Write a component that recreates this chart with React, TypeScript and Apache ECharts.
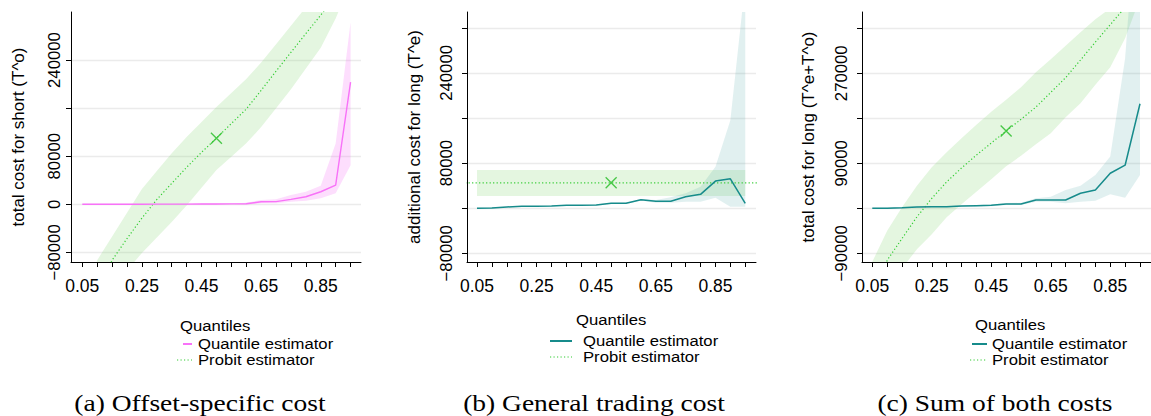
import React, { useEffect, useRef } from 'react';
import * as echarts from 'echarts';

// Quantile grid
const Q = [0.05, 0.10, 0.15, 0.20, 0.25, 0.30, 0.35, 0.40, 0.45, 0.50, 0.55, 0.60, 0.65, 0.70, 0.75, 0.80, 0.85, 0.90, 0.95];
const X_TICKS = [0.05, 0.10, 0.15, 0.20, 0.25, 0.30, 0.35, 0.40, 0.45, 0.50, 0.55, 0.60, 0.65, 0.70, 0.75, 0.80, 0.85, 0.90, 0.95];
const X_LABELS = [0.05, 0.25, 0.45, 0.65, 0.85];

// (a) Offset-specific cost
const A_QUANT = [0, 60, 110, 170, 210, 260, 320, 380, 460, 550, 650, 900, 4300, 4400, 8300, 12600, 20900, 32000, 203300];
const A_QUANT_LO = [-300, -250, -200, -150, -150, -100, -100, -50, 0, 50, 100, -500, 1600, 1600, 4300, 6000, 10000, 18200, 65200];
const A_QUANT_HI = [300, 350, 400, 450, 550, 600, 700, 800, 900, 1100, 1300, 2800, 7200, 8300, 15400, 20900, 30800, 101100, 302800];
const A_PROBIT = [-215000, -145000, -93000, -57000, -23000, 8000, 34800, 61500, 86500, 110000, 134400, 158400, 189500, 221600, 253000, 284000, 315000, 346000, 380000];
const A_PROBIT_HI = [-165000, -93000, -53600, -14200, 25300, 55500, 84800, 112000, 136900, 161800, 185200, 208600, 235800, 266500, 297200, 328000, 360000, 395000, 435000];
const A_PROBIT_LO = [-290000, -215000, -155000, -110000, -81000, -55300, -29400, -2000, 27500, 56900, 79100, 101400, 128500, 160000, 191600, 226000, 260700, 309000, 370000];
const A_MARK = [0.5, 110000];
const A_Y_TICKS = [-80000, 0, 80000, 160000, 240000];
const A_Y_LABELS = [-80000, 0, 80000, 240000];

// (b) General trading cost
const B_QUANT = [0, 500, 2100, 3400, 3400, 3900, 5100, 5100, 5700, 8700, 8700, 15000, 12200, 12200, 20400, 24600, 48100, 52200, 8700];
const B_QUANT_HI = [600, 1100, 2700, 4000, 4000, 4500, 5700, 5800, 6400, 9500, 9800, 16500, 14500, 19300, 26400, 38000, 73400, 156100, 400000];
const B_QUANT_LO = [-600, -100, 1500, 2800, 2800, 3300, 4500, 4400, 5000, 7900, 7600, 13500, 9500, 9500, 11500, 11500, 18600, 2700, 2700];
const B_PROBIT_X = [0.01, 0.99];
const B_PROBIT = [45100, 45100];
const B_BAND_X = [0.05, 0.95];
const B_PROBIT_HI = [67600, 67600];
const B_PROBIT_LO = [21600, 21600];
const B_MARK = [0.5, 45100];
const B_Y_TICKS = [-80000, 0, 80000, 160000, 240000, 320000];
const B_Y_LABELS = [-80000, 80000, 240000];

// (c) Sum of both costs
const C_QUANT = [0, 300, 1300, 2500, 3100, 3300, 4500, 5300, 6000, 8600, 8700, 16600, 16700, 16700, 30000, 36700, 70100, 86200, 209000];
const C_QUANT_HI = [1000, 1300, 2400, 3700, 4300, 4600, 5900, 6800, 7700, 10500, 11000, 20000, 23200, 36700, 45300, 66700, 103400, 300000, 700000];
const C_QUANT_LO = [-1000, -700, 200, 1300, 1900, 2000, 3100, 3800, 4300, 6700, 6400, 13300, 13300, 10000, 13300, 15300, 28000, 21300, 66700];
const C_PROBIT = [-200000, -103900, -60400, -17200, 19900, 52800, 80700, 106300, 130600, 154500, 178000, 202300, 231800, 261300, 296600, 332400, 367200, 402000, 450000];
const C_PROBIT_HI = [-107000, -45000, 2000, 45000, 82000, 112000, 140000, 167000, 193000, 217000, 242000, 272000, 298000, 325000, 352000, 378000, 400000, 440000, 490000];
const C_PROBIT_LO = [-300000, -220000, -120000, -82000, -52000, -18000, 8000, 33000, 58000, 84000, 105000, 128000, 150000, 182000, 210000, 247000, 282000, 340000, 420000];
const C_MARK = [0.5, 154500];
const C_Y_TICKS = [-90000, 0, 90000, 180000, 270000, 360000];
const C_Y_LABELS = [-90000, 90000, 270000];

const SANS = '"Liberation Sans", Arial, sans-serif';
const SERIF = '"Liberation Serif", "Times New Roman", serif';
const MAGENTA = '#f872f8';
const TEAL = '#168b8b';
const GREEN_LINE = '#33cc33';
const GREEN_MARK = '#22bb22';
const GREEN_BAND = 'rgba(120, 210, 100, 0.2)';
const TEAL_BAND = 'rgba(70, 160, 160, 0.16)';
const PINK_BAND = 'rgba(245, 90, 245, 0.2)';

function pairs(xs: number[], ys: number[]) {
  return xs.map((x, i) => [x, ys[i]]);
}

function band(idx: number, xs: number[], lo: number[], hi: number[], fill: string) {
  return {
    type: 'custom',
    xAxisIndex: idx,
    yAxisIndex: idx,
    clip: true,
    silent: true,
    data: [[xs[0], lo[0]]],
    renderItem: (_p: any, api: any) => {
      const pts: number[][] = [];
      for (let i = 0; i < xs.length; i++) pts.push(api.coord([xs[i], hi[i]]));
      for (let i = xs.length - 1; i >= 0; i--) pts.push(api.coord([xs[i], lo[i]]));
      return { type: 'polygon', shape: { points: pts }, style: { fill, stroke: 'none' } };
    },
  };
}

function line(idx: number, xs: number[], ys: number[], color: string, width: number, dotted: boolean) {
  return {
    type: 'line',
    xAxisIndex: idx,
    yAxisIndex: idx,
    data: pairs(xs, ys),
    symbol: 'none',
    clip: true,
    silent: true,
    lineStyle: { color, width, type: dotted ? [1.2, 2.3] : 'solid', cap: 'butt' },
  };
}

function mark(idx: number, p: number[]) {
  return {
    type: 'scatter',
    xAxisIndex: idx,
    yAxisIndex: idx,
    data: [p],
    symbol: 'path://M0 0L10 10M10 0L0 10',
    symbolSize: 11,
    silent: true,
    itemStyle: { color: 'rgba(0,0,0,0)', borderColor: GREEN_MARK, borderWidth: 1.3 },
  };
}

const fmtY = (v: number) => String(v).replace('-', '\u2212');

function xAxis(idx: number, min: number, max: number) {
  return {
    type: 'value',
    gridIndex: idx,
    min,
    max,
    axisLine: { show: true, onZero: false, lineStyle: { color: '#000', width: 1 } },
    axisTick: { show: true, length: 5, customValues: X_TICKS, lineStyle: { color: '#000', width: 1 } },
    axisLabel: {
      customValues: X_LABELS,
      formatter: (v: number) => v.toFixed(2),
      fontSize: 17.5,
      fontFamily: SANS,
      color: '#000',
      margin: 15,
    },
    splitLine: { show: false },
  };
}

function yAxis(idx: number, min: number, max: number, ticks: number[], labels: number[], margin: number) {
  return {
    type: 'value',
    gridIndex: idx,
    min,
    max,
    axisLine: { show: true, onZero: false, lineStyle: { color: '#000', width: 1 } },
    axisTick: { show: true, length: 5, customValues: ticks, lineStyle: { color: '#000', width: 1 } },
    axisLabel: {
      customValues: labels,
      formatter: fmtY,
      rotate: 90,
      fontSize: 16.7,
      fontFamily: SANS,
      color: '#000',
      margin,
    },
    splitLine: { show: true, lineStyle: { color: '#ebebeb', width: 1.3 } },
  };
}

function legendText(x: number, y: number, text: string) {
  return {
    type: 'text',
    x,
    y,
    scaleX: 1.15,
    style: { text, font: `14.5px ${SANS}`, fill: '#000', align: 'left', verticalAlign: 'middle' },
  };
}

function legend(tx: number, ty: number, lx1: number, lx2: number, dx1: number, textX: number, y1: number, y2: number, color: string) {
  return [
    legendText(tx, ty, 'Quantiles'),
    { type: 'line', shape: { x1: lx1, y1, x2: lx2, y2: y1 }, style: { stroke: color, lineWidth: 2 } },
    legendText(textX, y1, 'Quantile estimator'),
    { type: 'line', shape: { x1: dx1, y1: y2, x2: lx2, y2 }, style: { stroke: GREEN_LINE, lineWidth: 1.2, lineDash: [1.2, 2.3] } },
    legendText(textX, y2, 'Probit estimator'),
  ];
}

function yTitle(x: number, text: string) {
  return {
    type: 'text',
    x,
    y: 137,
    rotation: Math.PI / 2,
    style: { text, font: `17px ${SANS}`, fill: '#000', align: 'center', verticalAlign: 'middle' },
  };
}

function caption(x: number, text: string) {
  return {
    type: 'text',
    x,
    y: 403,
    scaleX: 1.17,
    style: { text, font: `23.5px ${SERIF}`, fill: '#000', align: 'center', verticalAlign: 'middle' },
  };
}

export default function App() {
  const ref = useRef<HTMLDivElement>(null);
  useEffect(() => {
    const chart = echarts.init(ref.current!, null, { renderer: 'svg' });
    const option: any = {
      animation: false,
      backgroundColor: '#fff',
      grid: [
        { left: 71, top: 12, width: 290, height: 250 },
        { left: 467, top: 12, width: 289, height: 250 },
        { left: 862, top: 12, width: 289, height: 250 },
      ],
      xAxis: [xAxis(0, 0.0121, 0.985), xAxis(1, 0.0164, 0.986), xAxis(2, 0.0154, 0.987)],
      yAxis: [
        yAxis(0, -96000, 320000, A_Y_TICKS, A_Y_LABELS, 8),
        yAxis(1, -95400, 348000, B_Y_TICKS, B_Y_LABELS, 12),
        yAxis(2, -107400, 392600, C_Y_TICKS, C_Y_LABELS, 12),
      ],
      series: [
        band(0, Q, A_PROBIT_LO, A_PROBIT_HI, GREEN_BAND),
        band(0, Q, A_QUANT_LO, A_QUANT_HI, PINK_BAND),
        line(0, Q, A_PROBIT, GREEN_LINE, 1.2, true),
        line(0, Q, A_QUANT, MAGENTA, 1.4, false),
        mark(0, A_MARK),

        band(1, B_BAND_X, B_PROBIT_LO, B_PROBIT_HI, GREEN_BAND),
        band(1, Q, B_QUANT_LO, B_QUANT_HI, TEAL_BAND),
        line(1, B_PROBIT_X, B_PROBIT, GREEN_LINE, 1.2, true),
        line(1, Q, B_QUANT, TEAL, 1.5, false),
        mark(1, B_MARK),

        band(2, Q, C_PROBIT_LO, C_PROBIT_HI, GREEN_BAND),
        band(2, Q, C_QUANT_LO, C_QUANT_HI, TEAL_BAND),
        line(2, Q, C_PROBIT, GREEN_LINE, 1.2, true),
        line(2, Q, C_QUANT, TEAL, 1.5, false),
        mark(2, C_MARK),
      ],
      graphic: [
        yTitle(18, 'total cost for short (T^o)'),
        yTitle(414, 'additional cost for long (T^e)'),
        yTitle(808, 'total cost for long (T^e+T^o)'),
        ...legend(180, 326, 183, 192, 177, 198, 344, 360, MAGENTA),
        ...legend(576, 320, 550, 572, 550, 583, 341, 357, TEAL),
        ...legend(975, 325, 972, 987, 970, 992, 344, 360, TEAL),
        caption(200, '(a) Offset-specific cost'),
        caption(594, '(b) General trading cost'),
        caption(995, '(c) Sum of both costs'),
      ],
    };
    chart.setOption(option);
    return () => chart.dispose();
  }, []);
  return (
    <div
      ref={ref}
      style={{ position: 'absolute', left: 0, top: 0, width: 1151, height: 416, background: '#fff' }}
    />
  );
}
